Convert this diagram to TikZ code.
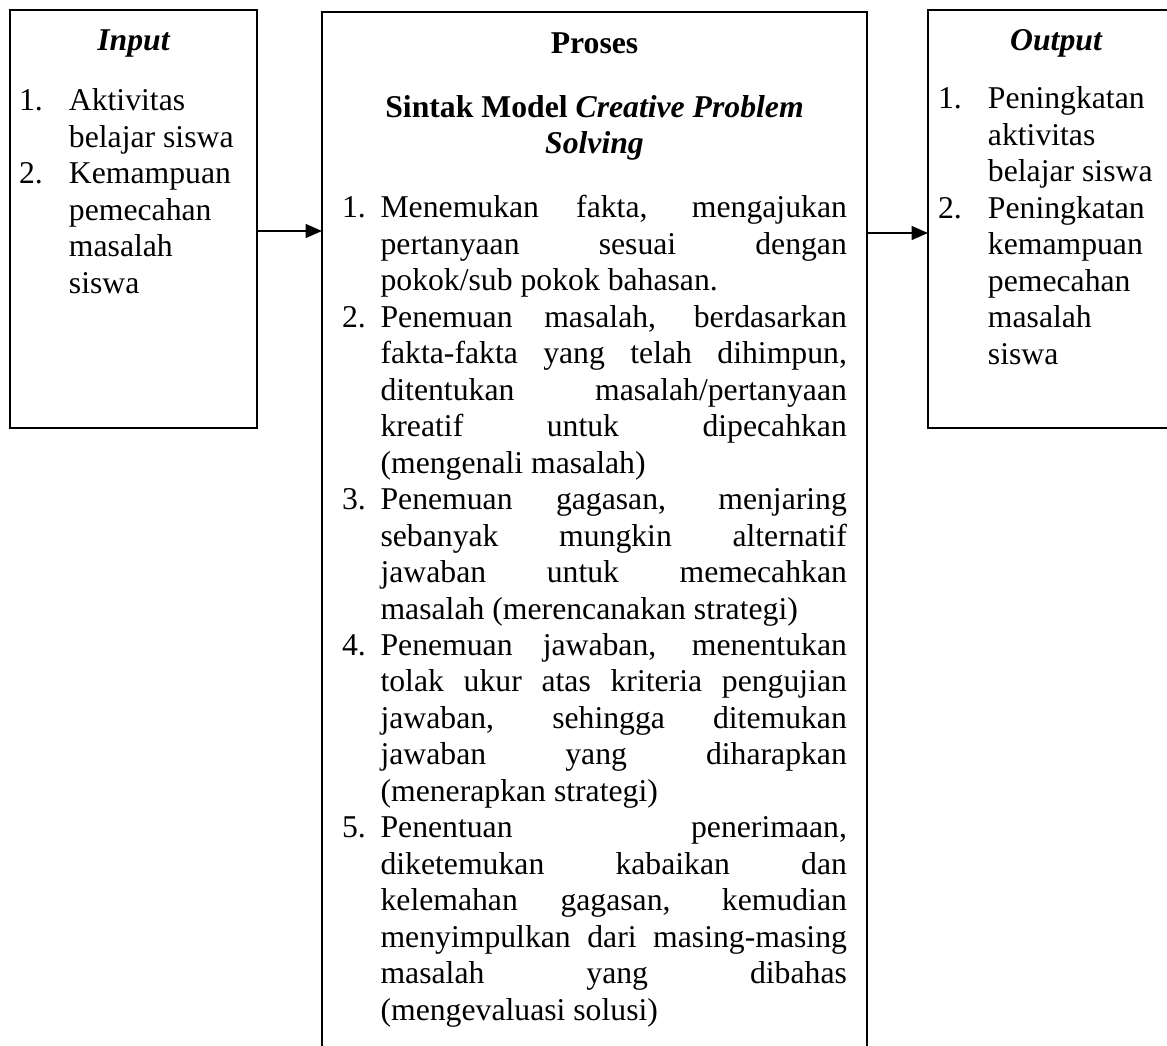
\documentclass[tikz,border=0pt]{standalone}
\usepackage{fontspec}
\setmainfont{Liberation Serif}
\usetikzlibrary{arrows.meta}
\def\px{0.3785pt}
\newlength\numw
\newcommand\itemline[2]{\hbox to\hsize{\hbox to\numw{#1\hfil}#2}}
\newcommand\numline[2]{\hbox{\hbox to\numw{#1\hfil}#2}}
\newcommand\justline[1]{\hbox to\hsize{\hskip\numw #1}}
\newcommand\lastline[1]{\hbox{\hskip\numw #1}}
\newcommand\textcol[3]{\vtop{\hsize=#1\relax\numw=#2\relax\baselineskip=13.8pt\hbox{}#3}}
\tikzset{
  box/.style={draw, line width=0.75pt, inner sep=0pt, outer sep=0pt, anchor=north west},
  txt/.style={inner sep=0pt, outer sep=0pt, anchor=base west, font=\fontsize{12pt}{13.8pt}\selectfont},
  head/.style={inner sep=0pt, outer sep=0pt, anchor=base, font=\fontsize{12pt}{13.8pt}\selectfont\bfseries},
  arr/.style={line width=0.75pt, -{Triangle[length=6.2pt,width=5.2pt]}}
}
\begin{document}
\begin{tikzpicture}[x=0.3785pt, y=-0.3785pt]
\useasboundingbox (0,0) rectangle (1167,1045);
\clip (0,0) rectangle (1167,1045);
% boxes
\node[box, minimum width=247*\px, minimum height=418*\px] (in) at (10,10) {};
\node[box, minimum width=545*\px, minimum height=1070*\px] (proc) at (322,12) {};
\node[box, minimum width=260*\px, minimum height=418*\px] (out) at (928,10) {};
% headings
\node[head] (hin) at (133.5,50) {\itshape Input};
\node[head] (hout) at (1056,50) {\itshape Output};
\node[head] (hproc1) at (594.5,53) {Proses};
\node[head] (hproc2) at (594.5,117) {Sintak Model \textit{Creative Problem}};
\node[head] (hproc3) at (594.5,153.5) {\itshape Solving};
% lists
\node[txt] (tin) at (19,74.5) {\textcol{90pt}{18.9pt}{%
\numline{1.}{Aktivitas}
\lastline{belajar siswa}
\numline{2.}{Kemampuan}
\lastline{pemecahan}
\lastline{masalah}
\lastline{siswa}}};
\node[txt] (tout) at (938,72.5) {\textcol{90pt}{18.9pt}{%
\numline{1.}{Peningkatan}
\lastline{aktivitas}
\lastline{belajar siswa}
\numline{2.}{Peningkatan}
\lastline{kemampuan}
\lastline{pemecahan}
\lastline{masalah}
\lastline{siswa}}};
\node[txt] (tproc) at (342,181.5) {\textcol{191.1pt}{14.6pt}{%
\itemline{1.}{Menemukan fakta, mengajukan}
\justline{pertanyaan sesuai dengan}
\lastline{pokok/sub pokok bahasan.}
\itemline{2.}{Penemuan masalah, berdasarkan}
\justline{fakta-fakta yang telah dihimpun,}
\justline{ditentukan masalah/pertanyaan}
\justline{kreatif untuk dipecahkan}
\lastline{(mengenali masalah)}
\itemline{3.}{Penemuan gagasan, menjaring}
\justline{sebanyak mungkin alternatif}
\justline{jawaban untuk memecahkan}
\lastline{masalah (merencanakan strategi)}
\itemline{4.}{Penemuan jawaban, menentukan}
\justline{tolak ukur atas kriteria pengujian}
\justline{jawaban, sehingga ditemukan}
\justline{jawaban yang diharapkan}
\lastline{(menerapkan strategi)}
\itemline{5.}{Penentuan penerimaan,}
\justline{diketemukan kabaikan dan}
\justline{kelemahan gagasan, kemudian}
\justline{menyimpulkan dari masing-masing}
\justline{masalah yang dibahas}
\lastline{(mengevaluasi solusi)}}};
% connectors
\coordinate (a1) at (0,231);
\coordinate (a2) at (0,233);
\draw[arr] (in.east |- a1) -- (proc.west |- a1);
\draw[arr] (proc.east |- a2) -- (out.west |- a2);
\end{tikzpicture}
\end{document}
